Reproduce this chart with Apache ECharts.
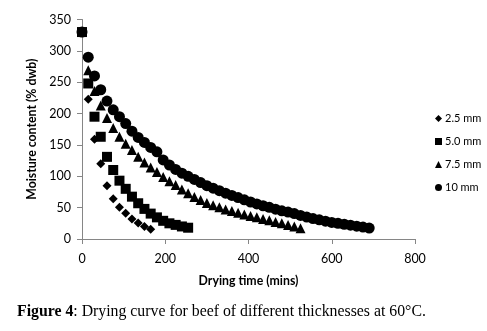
<!DOCTYPE html>
<html>
<head>
<meta charset="utf-8">
<script src="https://cdn.jsdelivr.net/npm/echarts@6/dist/echarts.min.js"></script>
<style>html,body{margin:0;padding:0;background:#fff}#c{width:487px;height:331px}</style>
</head>
<body>
<div id="c"></div>
<script>
const times = [0,15,30,45,60,75,90,105,120,135,150,165,180,195,210,225,240,255,270,285,300,315,330,345,360,375,390,405,420,435,450,465,480,495,510,525,540,555,570,585,600,615,630,645,660,675,690];
const seriesNames = ['2.5 mm','5.0 mm','7.5 mm','10 mm'];
const mc25 = [330,223,159,120,85,64,50.5,41,32,25.5,20,15.5];
const mc50 = [330,248,195,163,131,110,93,80,67.5,57,48,40.5,34.5,29,25,22.5,20,18];
const mc75 = [330,269,236,213,193,177,163,152,142,131,122,114,107,99,92,86,79,73,67,62,57.5,54,50.5,47,44.5,42,39,36.5,34.5,32,30,27,25,22.5,20,17];
const mc10 = [330,290,260,238,220,206,195,184,172,162,154,146,139,126,118,111,105,100,95,90,85,81,77,73,69.5,66,62.5,59,56,53,50.5,47.5,45,43,40.5,37.5,35,32.5,30.5,28.5,26.5,25,23.5,22,20.5,19,17.5];
const xTicks = [0,200,400,600,800];
const yTicks = [0,50,100,150,200,250,300,350];

function pairs(vals){ return vals.map((v,i)=>[times[i], v]); }

const chart = echarts.init(document.getElementById('c'), null, {renderer:'canvas'});
const lblFont = 'Lato, "Open Sans", sans-serif';
const symbols = ['diamond','rect','triangle','circle'];
const sizes = [9,10,10,11];
const data = [mc25, mc50, mc75, mc10];
chart.setOption({
  animation:false,
  backgroundColor:'#fff',
  grid:{left:82,right:72,top:19.5,bottom:92,containLabel:false},
  title:{
    text:'{b|Figure 4}: Drying curve for beef of different thicknesses at 60°C.',
    left:12, top:299,
    textStyle:{fontFamily:'"Liberation Serif", serif',fontSize:15.8,fontWeight:'normal',color:'#000',
      rich:{b:{fontFamily:'"Liberation Serif", serif',fontSize:15.8,fontWeight:'bold',color:'#000'}}}
  },
  legend:{
    orient:'vertical', left:430, top:107, itemGap:10, itemWidth:7, itemHeight:7,
    data: seriesNames.map((n,i)=>({name:n, icon:symbols[i]})),
    itemStyle:{opacity:1},
    textStyle:{fontFamily:lblFont,fontSize:11,color:'#000',padding:[0,0,0,-2],lineHeight:13}
  },
  xAxis:{
    type:'value', min:0, max:800, interval:200,
    name:'Drying time (mins)', nameLocation:'middle', nameGap:36,
    nameTextStyle:{fontFamily:lblFont,fontSize:12.3,fontWeight:'bold',color:'#000'},
    axisLine:{show:true,lineStyle:{color:'#868686',width:1}},
    axisTick:{show:true,inside:false,length:5,lineStyle:{color:'#868686'}},
    axisLabel:{fontFamily:lblFont,fontSize:12.5,color:'#000',margin:13,
      formatter:v=>xTicks.includes(v)?String(v):''},
    splitLine:{show:false}
  },
  yAxis:{
    type:'value', min:0, max:350, interval:50,
    name:'Moisture content (% dwb)', nameLocation:'middle', nameGap:43, nameRotate:90,
    nameTextStyle:{fontFamily:lblFont,fontSize:12.3,fontWeight:'bold',color:'#000'},
    axisLine:{show:true,lineStyle:{color:'#868686',width:1}},
    axisTick:{show:true,inside:false,length:5,lineStyle:{color:'#868686'}},
    axisLabel:{fontFamily:lblFont,fontSize:12.5,color:'#000',margin:11,
      formatter:v=>yTicks.includes(v)?String(v):''},
    splitLine:{show:false}
  },
  series: seriesNames.map((n,i)=>({
    name:n, type:'scatter', symbol:symbols[i], symbolSize:sizes[i],
    itemStyle:{color:'#000',opacity:1},
    data: pairs(data[i]), z: 10-i
  }))
});
</script>
</body>
</html>
